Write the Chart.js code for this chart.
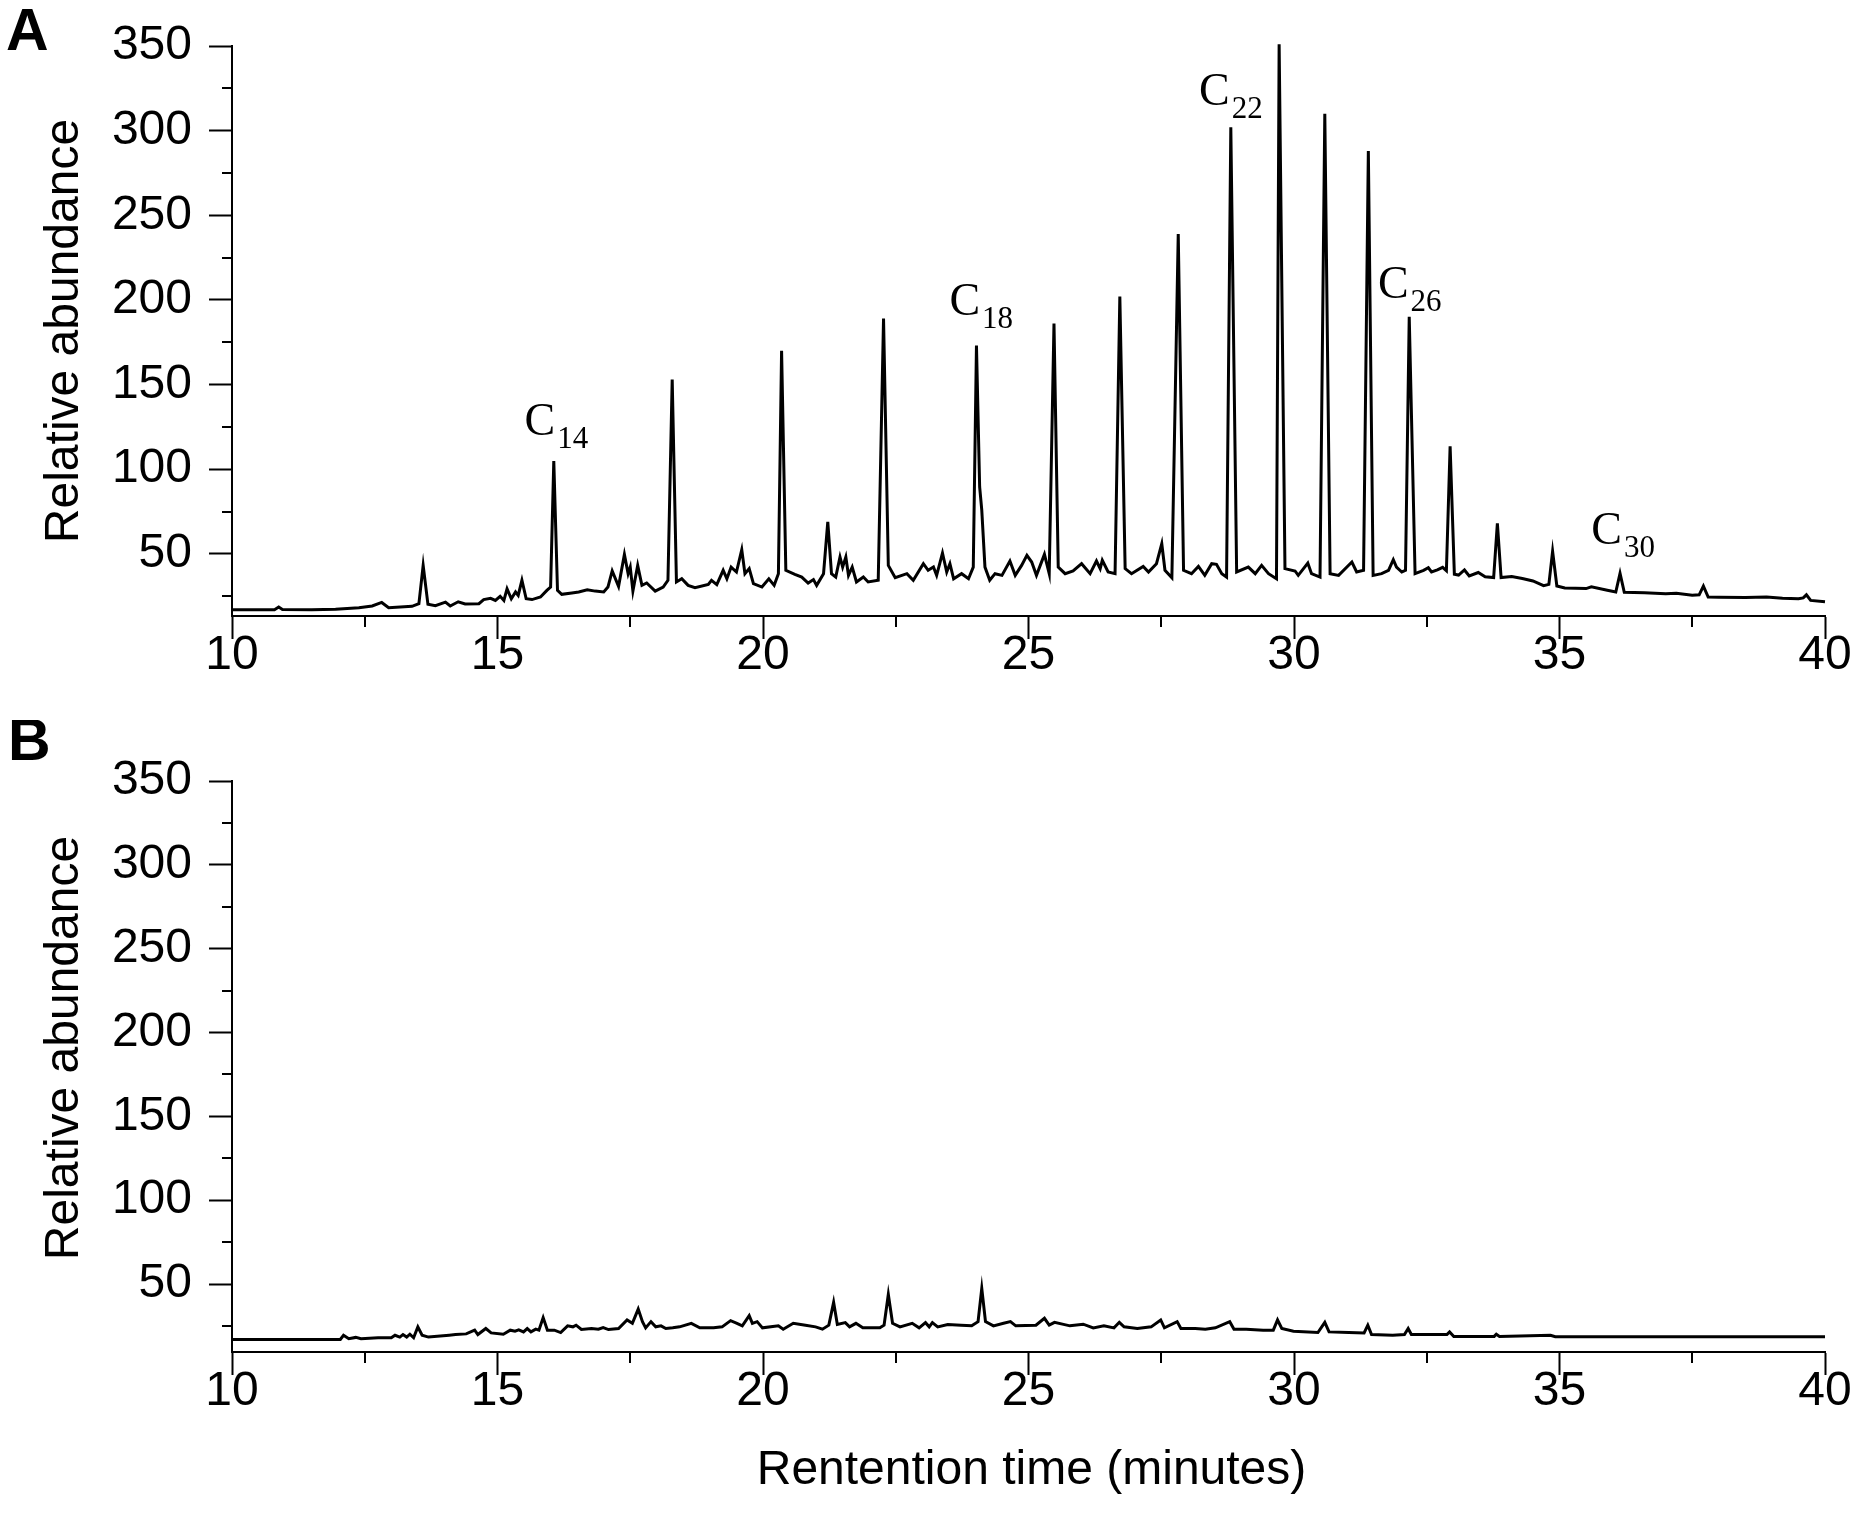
<!DOCTYPE html>
<html><head><meta charset="utf-8">
<script src="https://cdn.jsdelivr.net/npm/chart.js@4.4.1/dist/chart.umd.min.js"></script>
<style>
html,body{margin:0;padding:0;background:#fff;}
#wrap{position:relative;width:1861px;height:1532px;background:#fff;}
canvas{position:absolute;left:0;}
</style>
</head><body>
<div id="wrap">
<canvas id="cA" width="1861" height="720" style="top:0px"></canvas>
<canvas id="cB" width="1861" height="812" style="top:720px"></canvas>
</div>
<script>
// ---------------- data ----------------
const timeA = [10.0,10.8,10.88,10.95,11.5,11.95,12.39,12.64,12.82,12.95,13.39,13.52,13.6,13.69,13.83,14.02,14.11,14.26,14.39,14.65,14.74,14.87,14.96,15.05,15.12,15.18,15.26,15.34,15.39,15.46,15.54,15.65,15.81,15.93,16.0,16.06,16.13,16.21,16.4,16.53,16.69,16.84,17.0,17.08,17.16,17.28,17.39,17.46,17.5,17.55,17.64,17.72,17.81,17.97,18.12,18.21,18.29,18.37,18.47,18.59,18.72,18.97,19.03,19.13,19.25,19.32,19.4,19.5,19.6,19.66,19.74,19.82,19.98,20.11,20.21,20.29,20.35,20.43,20.6,20.73,20.85,20.95,21.01,21.14,21.22,21.29,21.37,21.45,21.5,21.56,21.61,21.68,21.76,21.89,21.98,22.17,22.27,22.36,22.49,22.71,22.83,23.02,23.11,23.21,23.27,23.38,23.46,23.52,23.59,23.74,23.87,23.96,24.02,24.08,24.12,24.18,24.27,24.37,24.5,24.65,24.75,24.87,24.97,25.06,25.15,25.3,25.39,25.48,25.56,25.69,25.84,26.0,26.16,26.28,26.35,26.39,26.5,26.63,26.72,26.82,26.94,27.16,27.26,27.41,27.51,27.57,27.7,27.82,27.92,28.07,28.2,28.32,28.45,28.54,28.64,28.73,28.81,28.92,29.14,29.27,29.39,29.52,29.67,29.72,29.83,30.02,30.08,30.26,30.33,30.49,30.58,30.68,30.84,31.09,31.18,31.31,31.4,31.49,31.65,31.78,31.87,31.93,32.03,32.1,32.17,32.28,32.44,32.53,32.59,32.7,32.8,32.87,32.94,33.02,33.1,33.21,33.3,33.47,33.6,33.76,33.83,33.9,34.1,34.3,34.5,34.7,34.8,34.87,34.95,35.1,35.5,35.6,35.9,36.06,36.14,36.22,36.6,37.0,37.2,37.5,37.63,37.71,37.8,38.0,38.5,38.9,39.2,39.5,39.59,39.65,39.73,40.0];
const abundA = [17.0,17.0,18.6,17.2,17.0,17.3,18.2,19.2,21.3,18.2,19.0,20.6,43.2,20.2,19.4,21.5,19.2,21.7,20.4,20.6,23.0,23.7,22.5,24.9,22.5,29.4,23.5,27.5,25.5,34.4,23.5,23.0,24.5,28.4,30.4,104.9,28.4,26.1,26.9,27.5,28.8,28.0,27.5,30.4,39.9,30.8,49.7,38.3,42.2,28.0,43.2,31.4,32.8,28.0,30.4,34.4,153,33.4,35.3,31.4,30.0,32.0,34.4,31.8,40.3,35.3,42.2,39.3,52.5,38.3,41.3,32.4,30.4,35.3,31.4,38.3,170,40.3,37.9,36.3,32.8,34.8,31.4,38.3,68.9,38.3,36.3,48.2,42.2,48.2,37.3,42.2,33.4,36.3,33.4,34.4,189,43.2,35.9,38.3,34.4,44.2,40.3,42.2,37.3,50.5,39.3,44.2,35.3,38.3,35.3,42.2,173,89.5,75.8,42.2,34.4,38.3,37.3,45.8,37.3,43.2,49.1,45.2,37.3,49.7,38.3,186,42.2,38.3,39.9,44.2,38.3,45.8,41.3,46.2,39.3,38.3,202,41.3,38.3,42.6,39.3,44.2,56.0,40.3,35.9,239,40.3,38.3,42.6,37.3,44.2,43.8,38.3,36.3,302,39.3,42.2,38.3,43.2,38.3,35.3,351,41.3,39.9,37.3,44.6,38.3,36.3,310,38.3,37.3,45.2,39.3,40.3,288,37.3,38.3,40.3,46.6,42.2,39.3,40.3,190,38.3,40.3,41.8,39.3,40.5,42.0,40.0,113.5,38.0,37.5,40.5,37.0,39.0,36.5,36.0,68.0,36.0,36.6,35.5,34.0,31.2,32.0,51.5,31.0,29.8,29.5,30.5,28.5,27.5,38.5,27.3,27.0,26.5,26.8,25.5,25.8,31.0,24.5,24.4,24.2,24.5,23.8,23.5,24.0,25.8,22.5,21.7];

const timeB = [10.0,12.04,12.1,12.2,12.33,12.43,12.75,13.0,13.07,13.16,13.22,13.29,13.35,13.42,13.5,13.58,13.7,14.09,14.21,14.41,14.57,14.63,14.78,14.88,15.11,15.24,15.33,15.4,15.49,15.56,15.63,15.72,15.78,15.86,15.94,16.07,16.19,16.32,16.42,16.48,16.58,16.77,16.9,16.99,17.09,17.28,17.44,17.54,17.65,17.73,17.79,17.89,17.98,18.08,18.17,18.3,18.43,18.65,18.81,19.07,19.23,19.39,19.51,19.61,19.74,19.8,19.89,19.99,20.29,20.38,20.57,20.8,20.99,21.12,21.24,21.33,21.4,21.55,21.63,21.75,21.88,22.2,22.28,22.36,22.44,22.58,22.81,22.94,23.06,23.13,23.19,23.29,23.48,23.73,23.93,24.05,24.12,24.19,24.34,24.53,24.66,24.76,25.14,25.3,25.39,25.49,25.78,26.03,26.22,26.42,26.61,26.71,26.8,27.05,27.31,27.49,27.56,27.8,27.87,28.14,28.33,28.52,28.79,28.87,29.1,29.42,29.61,29.69,29.77,29.99,30.45,30.58,30.66,31.03,31.32,31.39,31.46,31.86,32.08,32.15,32.21,32.88,32.93,33.01,33.77,33.81,33.87,34.83,34.92,40.0];
const abundB = [17.0,17.0,19.5,17.4,18.2,17.4,18.0,18.0,19.5,18.4,19.9,18.4,20.1,18.0,24.5,19.5,18.4,19.5,19.9,20.3,22.5,19.9,23.5,20.9,20.1,22.5,21.9,22.7,21.5,23.5,21.5,23.1,22.5,30.0,22.5,22.5,21.1,25.1,24.5,25.5,22.9,23.5,23.1,24.1,22.9,23.5,28.6,26.6,35.1,27.6,23.9,27.6,24.5,25.1,23.5,23.9,24.5,26.6,23.9,23.9,24.5,28.2,26.6,25.1,31.2,26.6,27.6,23.9,25.1,23.1,26.6,25.5,24.5,23.1,25.5,39.1,25.9,27.0,24.5,26.6,23.9,23.9,25.5,43.8,26.6,24.5,26.6,23.9,27.0,24.5,27.0,24.5,25.9,25.5,25.1,27.6,47.4,27.6,25.1,26.6,27.6,25.1,25.5,29.6,25.5,27.2,25.1,26.1,23.9,25.1,23.9,27.2,24.5,23.5,24.5,28.6,23.9,27.6,23.5,23.5,23.1,23.9,27.6,23.1,23.1,22.5,22.5,28.6,23.5,21.9,21.1,27.2,21.5,21.1,20.9,25.5,19.9,19.5,19.9,23.5,19.9,19.9,21.5,18.8,18.8,20.1,18.8,19.5,18.6,18.6];

const xTicks = [10,15,20,25,30,35,40];
const xMinor = [12.5,17.5,22.5,27.5,32.5,37.5];
const yTicks = [50,100,150,200,250,300,350];
const yMinor = [25,75,125,175,225,275,325];

const peakNames  = ['14','18','22','26','30'];
const peakLabelT = [15.51,23.51,28.21,31.58,35.60];
const peakLabelV = [120,191,315,201,56];

// ---------------- drawing ----------------
const SANS = "'Liberation Sans', Arial, Helvetica, sans-serif";
const SERIF = "'Liberation Serif', 'Times New Roman', serif";

const decor = {
  id: 'decor',
  afterDraw(chart, args, o) {
    const {ctx, chartArea: a, scales: {x, y}} = chart;
    ctx.save();
    // minor ticks
    ctx.strokeStyle = '#000'; ctx.lineWidth = 2;
    ctx.beginPath();
    xMinor.forEach(v => { const px = Math.round(x.getPixelForValue(v)); ctx.moveTo(px, a.bottom); ctx.lineTo(px, a.bottom + 11); });
    yMinor.forEach(v => { if (v < y.min) return; const py = Math.round(y.getPixelForValue(v)); ctx.moveTo(a.left, py); ctx.lineTo(a.left - 10, py); });
    ctx.stroke();
    ctx.fillStyle = '#000';
    // panel letter
    ctx.font = 'bold 59px ' + SANS;
    ctx.textAlign = 'left'; ctx.textBaseline = 'alphabetic';
    ctx.fillText(o.letter, o.letterX, o.letterY);
    // y title
    ctx.save();
    ctx.translate(o.yTitleX, o.yTitleY);
    ctx.rotate(-Math.PI / 2);
    ctx.font = '48px ' + SANS;
    ctx.textAlign = 'center';
    ctx.fillText('Relative abundance', 0, 0);
    ctx.restore();
    // x title
    if (o.xTitle) {
      ctx.font = '48px ' + SANS;
      ctx.textAlign = 'center';
      ctx.fillText(o.xTitle, (a.left + a.right) / 2 + 3, o.xTitleY);
    }
    // peak labels
    if (o.peaks) {
      ctx.textAlign = 'left';
      peakNames.forEach((n, i) => {
        const px = x.getPixelForValue(peakLabelT[i]);
        const py = y.getPixelForValue(peakLabelV[i]);
        ctx.font = '46px ' + SERIF;
        ctx.fillText('C', px, py);
        const w = ctx.measureText('C').width;
        ctx.font = '31px ' + SERIF;
        ctx.fillText(n, px + w + 2, py + 13);
      });
    }
    ctx.restore();
  }
};

function makeChart(id, times, vals, yMin, pad, xH, opts) {
  return new Chart(document.getElementById(id), {
    type: 'line',
    data: { datasets: [{
      data: times.map((t, i) => ({x: t, y: vals[i]})),
      borderColor: '#000', borderWidth: 3, pointRadius: 0, tension: 0,
      fill: false, clip: false
    }]},
    options: {
      responsive: false, animation: false, devicePixelRatio: 1,
      layout: { padding: pad },
      plugins: { legend: {display: false}, tooltip: {enabled: false}, decor: opts },
      scales: {
        x: {
          type: 'linear', min: 10, max: 40,
          afterBuildTicks: s => { s.ticks = xTicks.map(v => ({value: v})); },
          afterFit: s => { s.height = xH; },
          grid: {drawOnChartArea: false, drawTicks: true, tickLength: 23, tickWidth: 2, tickColor: '#000'},
          border: {display: true, color: '#000', width: 2},
          ticks: {font: {family: SANS, size: 48}, color: '#000', padding: -12, maxRotation: 0, autoSkip: false}
        },
        y: {
          type: 'linear', min: yMin, max: 350,
          afterBuildTicks: s => { s.ticks = yTicks.map(v => ({value: v})); },
          afterFit: s => { s.width = 232; },
          grid: {drawOnChartArea: false, drawTicks: true, tickLength: 23, tickWidth: 2, tickColor: '#000'},
          border: {display: true, color: '#000', width: 2},
          ticks: {font: {family: SANS, size: 48}, color: '#000', padding: 17, autoSkip: false}
        }
      }
    },
    plugins: [decor]
  });
}

makeChart('cA', timeA, abundA, 13.3, {top: 46, right: 36, bottom: 0, left: 0}, 104,
  {letter: 'A', letterX: 6, letterY: 50, yTitleX: 78, yTitleY: 331, peaks: true});
makeChart('cB', timeB, abundB, 9.5, {top: 61, right: 36, bottom: 0, left: 0}, 180,
  {letter: 'B', letterX: 8, letterY: 40, yTitleX: 78, yTitleY: 328, xTitle: 'Rentention time (minutes)', xTitleY: 764});
</script>
</body></html>
